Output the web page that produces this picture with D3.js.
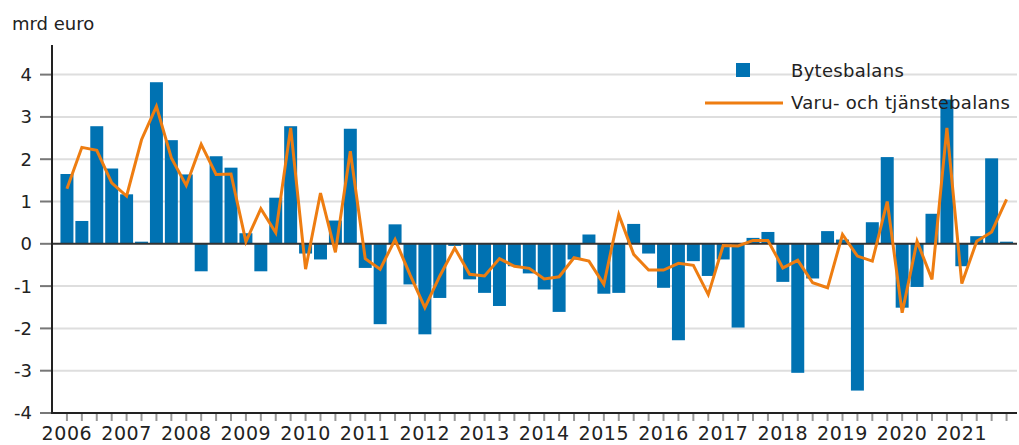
<!DOCTYPE html>
<html>
<head>
<meta charset="utf-8">
<script src="https://cdn.jsdelivr.net/npm/d3@7"></script>
<style>
  body { margin: 0; background: #fff; }
  text { font-family: "DejaVu Sans", Verdana, sans-serif; fill: #222; }
</style>
</head>
<body>
<div id="chart"></div>
<script>
// år och kvartal (2006 K1 - 2021 K4)
const years = ["2006","2007","2008","2009","2010","2011","2012","2013",
               "2014","2015","2016","2017","2018","2019","2020","2021"];
const quarters = ["K1","K2","K3","K4"];
const categories = years.flatMap(y => quarters.map(q => y + q));

// Bytesbalans, mrd euro
const bytesbalans = [
   1.65,  0.54,  2.78,  1.78,   1.17,  0.05,  3.82,  2.45,
   1.64, -0.65,  2.07,  1.80,   0.25, -0.65,  1.09,  2.78,
  -0.23, -0.37,  0.55,  2.72,  -0.57, -1.90,  0.46, -0.96,
  -2.14, -1.28, -0.05, -0.84,  -1.16, -1.47, -0.53, -0.70,
  -1.08, -1.61, -0.37,  0.22,  -1.18, -1.16,  0.47, -0.23,
  -1.04, -2.28, -0.41, -0.76,  -0.37, -1.98,  0.14,  0.28,
  -0.90, -3.05, -0.82,  0.30,   0.10, -3.47,  0.51,  2.05,
  -1.51, -1.02,  0.71,  3.41,  -0.53,  0.18,  2.02,  0.05
];

// Varu- och tjänstebalans, mrd euro
const varuTjanst = [
   1.30,  2.28,  2.21,  1.44,   1.13,  2.46,  3.25,  2.03,
   1.38,  2.35,  1.64,  1.65,   0.05,  0.83,  0.26,  2.74,
  -0.60,  1.20, -0.20,  2.19,  -0.35, -0.60,  0.10, -0.73,
  -1.51, -0.76, -0.10, -0.72,  -0.76, -0.35, -0.53, -0.58,
  -0.83, -0.78, -0.33, -0.41,  -0.96,  0.69, -0.25, -0.62,
  -0.62, -0.46, -0.51, -1.20,  -0.04, -0.05,  0.08,  0.08,
  -0.57, -0.39, -0.92, -1.04,   0.22, -0.29, -0.41,  1.00,
  -1.63,  0.06, -0.84,  2.74,  -0.94,  0.06,  0.28,  1.05
];

const yTicks = [-4, -3, -2, -1, 0, 1, 2, 3, 4];
const unitLabel = "mrd euro";
const seriesNames = ["Bytesbalans", "Varu- och tjänstebalans"];

const barColor = "#0072b2",
      lineColor = "#ee7d11";

const W = 1019, H = 445;
const plot = {left: 52, right: 1017, top: 45, bottom: 413};

const svg = d3.select("#chart")
              .append("svg")
              .attr("width", W)
              .attr("height", H);

const data = categories.map((c, i) => ({kv: c, bar: bytesbalans[i], line: varuTjanst[i]}));

const x = d3.scaleBand()
            .domain(categories)
            .range([53, 1020.5])
            .paddingInner(0.13)
            .paddingOuter(0.5);

const y = d3.scaleLinear()
            .domain([-4, 4.7])
            .range([plot.bottom, plot.top]);

const cx = d => x(d) + x.bandwidth() / 2;

// rutnät
svg.append("g")
   .selectAll("line")
   .data(yTicks.filter(t => t !== 0 && t !== -4))
   .enter()
   .append("line")
   .attr("x1", plot.left)
   .attr("x2", plot.right)
   .attr("y1", d => y(d))
   .attr("y2", d => y(d))
   .attr("stroke", "#dedede")
   .attr("stroke-width", 2);

// staplar
svg.selectAll(".bar")
   .data(data)
   .enter()
   .append("rect")
   .attr("class", "bar")
   .attr("x", d => x(d.kv))
   .attr("y", d => y(Math.max(0, d.bar)))
   .attr("width", x.bandwidth())
   .attr("height", d => Math.abs(y(d.bar) - y(0)))
   .attr("fill", barColor);

// nollinje
svg.append("line")
   .attr("x1", plot.left)
   .attr("x2", plot.right)
   .attr("y1", y(0))
   .attr("y2", y(0))
   .attr("stroke", "#333")
   .attr("stroke-width", 2);

// linje
const line = d3.line()
               .x(d => cx(d.kv))
               .y(d => y(d.line));

svg.append("path")
   .datum(data)
   .attr("fill", "none")
   .attr("stroke", lineColor)
   .attr("stroke-width", 3)
   .attr("stroke-linejoin", "miter")
   .attr("d", line);

// y-axel
const yAxis = svg.append("g");
yAxis.selectAll("line.tick")
     .data(yTicks)
     .enter()
     .append("line")
     .attr("class", "tick")
     .attr("x1", 40)
     .attr("x2", plot.left)
     .attr("y1", d => y(d))
     .attr("y2", d => y(d))
     .attr("stroke", "#777")
     .attr("stroke-width", 2);
yAxis.selectAll("text")
     .data(yTicks)
     .enter()
     .append("text")
     .attr("x", 32)
     .attr("y", d => y(d))
     .attr("dy", "0.36em")
     .attr("text-anchor", "end")
     .style("font-size", "18px")
     .text(d => d);
yAxis.append("line")
     .attr("x1", plot.left)
     .attr("x2", plot.left)
     .attr("y1", plot.top)
     .attr("y2", plot.bottom + 1)
     .attr("stroke", "#222")
     .attr("stroke-width", 2);

// x-axel
const xAxis = svg.append("g");
xAxis.append("line")
     .attr("x1", plot.left)
     .attr("x2", plot.right)
     .attr("y1", plot.bottom)
     .attr("y2", plot.bottom)
     .attr("stroke", "#222")
     .attr("stroke-width", 2);
xAxis.selectAll("line.tick")
     .data(categories)
     .enter()
     .append("line")
     .attr("class", "tick")
     .attr("x1", d => cx(d))
     .attr("x2", d => cx(d))
     .attr("y1", plot.bottom + 1)
     .attr("y2", plot.bottom + 8)
     .attr("stroke", "#999")
     .attr("stroke-width", 2);
xAxis.selectAll("text")
     .data(years)
     .enter()
     .append("text")
     .attr("x", d => cx(d + "K1"))
     .attr("y", 439.5)
     .attr("text-anchor", "middle")
     .style("font-size", "19px")
     .style("letter-spacing", "0.6px")
     .text(d => d);

// enhet
svg.append("text")
   .attr("x", 12)
   .attr("y", 30)
   .style("font-size", "18px")
   .text(unitLabel);

// legend
const legend = svg.append("g");
legend.append("rect")
      .attr("x", 736)
      .attr("y", 63)
      .attr("width", 14)
      .attr("height", 14)
      .attr("fill", barColor);
legend.append("line")
      .attr("x1", 705)
      .attr("x2", 783)
      .attr("y1", 103)
      .attr("y2", 103)
      .attr("stroke", lineColor)
      .attr("stroke-width", 3);
legend.selectAll("text")
      .data(seriesNames)
      .enter()
      .append("text")
      .attr("x", 791)
      .attr("y", (d, i) => 77 + i * 32)
      .style("font-size", "18px")
      .style("letter-spacing", "0.3px")
      .text(d => d);
</script>
</body>
</html>
